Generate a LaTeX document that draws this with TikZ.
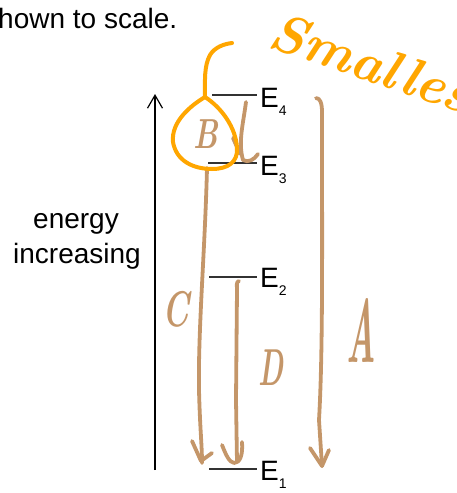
\documentclass[tikz,border=0pt]{standalone}
\usepackage{fontspec}
\newfontfamily\arialfont{Liberation Sans}
\usetikzlibrary{arrows.meta}
\definecolor{handtancol}{RGB}{196,150,105}
\definecolor{hlorange}{RGB}{255,166,0}
\definecolor{levelgray}{RGB}{50,50,50}
\begin{document}
\begin{tikzpicture}[x=1pt,y=-1pt,
  printed/.style={font=\arialfont\fontsize{28}{34}\selectfont, inner sep=0pt},
  level/.style={draw=levelgray, line width=1.3pt},
  handtan/.style={draw=handtancol, line width=3.8pt, line cap=round, line join=round},
  handor/.style={draw=hlorange, line width=4pt, line cap=round, line join=round},
  handletter/.style={text=handtancol, inner sep=0pt},
]
\useasboundingbox (0,0) rectangle (457,493);
\clip (0,0) rectangle (457,493);

% top text
\node[printed, anchor=base west] (cap) at (-2,28) {hown to scale.};

% axis label
\node[printed, anchor=base] (lab1) at (76,228) {energy};
\node[printed, anchor=base] (lab2) at (77,263) {increasing};

% axis arrow
\coordinate (axb) at (155,470);
\coordinate (axt) at (155,94);
\draw[line width=1.2pt, -{Straight Barb[length=13pt,width=15pt,line width=1.2pt]}] (axb) -- (axt);

% energy levels
\coordinate (l4a) at (212,95);  \coordinate (l4b) at (257,95);
\coordinate (l3a) at (208,163); \coordinate (l3b) at (257,163);
\coordinate (l2a) at (209,277); \coordinate (l2b) at (257,277);
\coordinate (l1a) at (209,469); \coordinate (l1b) at (257,469);
\draw[level] (l4a) -- (l4b);
\draw[level] (l3a) -- (l3b);
\draw[level] (l2a) -- (l2b);
\draw[level] (l1a) -- (l1b);
\node[printed, anchor=base west] (e4) at (260,107) {E\raisebox{-8pt}{\fontsize{14}{14}\selectfont 4}};
\node[printed, anchor=base west] (e3) at (260,175) {E\raisebox{-8pt}{\fontsize{14}{14}\selectfont 3}};
\node[printed, anchor=base west] (e2) at (260,287) {E\raisebox{-8pt}{\fontsize{14}{14}\selectfont 2}};
\node[printed, anchor=base west] (e1) at (260,480) {E\raisebox{-8pt}{\fontsize{14}{14}\selectfont 1}};

% hand-drawn tan arrows
% B : E4 -> E3
\draw[handtan] (246,102) .. controls (243,125) and (238,142) .. (243,160)
  .. controls (248,163) and (254,160) .. (258,154);
\draw[handtan] (233,138) -- (240,154);
% C : E3 -> E1
\draw[handtan] (207,168) .. controls (205,250) and (198,330) .. (199,390)
  .. controls (200,430) and (202,445) .. (202,463);
\draw[handtan] (192,441) -- (201,461) -- (212,453);
% D : E2 -> E1
\draw[handtan] (239,281) .. controls (236,282) and (237,285) .. (237,290)
  -- (236,400) -- (237,462);
\draw[handtan] (222,445) .. controls (226,455) and (229,462) .. (234,463)
  .. controls (240,463) and (243,455) .. (242,442);
% A : E4 -> E1
\draw[handtan] (316,98) .. controls (320,98) and (322,103) .. (322,112)
  .. controls (322,250) and (323,350) .. (319,420) -- (322,466);
\draw[handtan] (310,448) -- (322,466) -- (329,450);

% hand letters
\node[handletter, font=\bfseries\itshape\fontsize{42}{42}\selectfont, xscale=0.72] (lb) at (206,134) {B};
\node[handletter, font=\bfseries\itshape\fontsize{50}{50}\selectfont, xscale=0.65] (lc) at (176,309) {C};
\node[handletter, font=\bfseries\itshape\fontsize{52}{52}\selectfont, xscale=0.55] (ld) at (271,368) {D};
\node[handletter, font=\bfseries\itshape\fontsize{90}{90}\selectfont, xscale=0.38] (la) at (361,330) {A};

% orange annotation
\draw[handor] (205,97) .. controls (222,108) and (236,128) .. (237,148)
  .. controls (238,162) and (228,169) .. (212,169)
  .. controls (192,169) and (176,160) .. (173,142)
  .. controls (171,122) and (190,106) .. (205,97);
\draw[handor] (205,97) .. controls (205,80) and (204,66) .. (210,55)
  .. controls (215,47) and (224,44) .. (232,43);
\node[text=hlorange, inner sep=0pt, anchor=base west, rotate=-19,
  font=\bfseries\itshape\fontsize{54}{54}\selectfont] (sm) at (266,46) {Smallest};
\end{tikzpicture}
\end{document}
